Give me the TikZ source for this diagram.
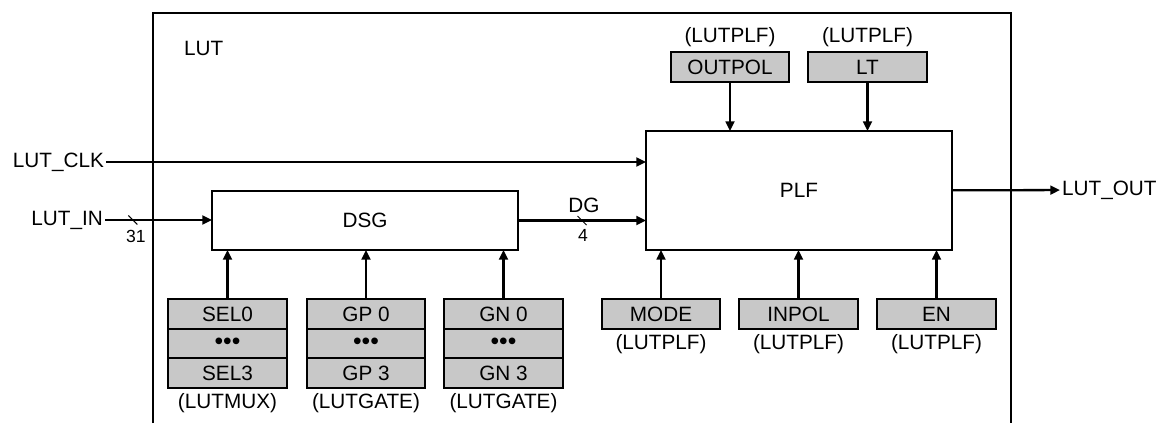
\documentclass[tikz,border=0pt]{standalone}
\usepackage{fontspec}
\setmainfont{Liberation Sans}
\usetikzlibrary{arrows.meta, positioning}
\definecolor{regfill}{RGB}{200,200,200}

\begin{document}
\begin{tikzpicture}[
			x=0.02cm, y=-0.02cm,
			node distance=0cm,
			font=\fontsize{11.8}{14}\selectfont,
			block/.style={rectangle, draw, line width=0.9pt, align=center,
				inner sep=0pt, outer sep=0pt},
			reg/.style={block, fill=regfill, minimum width=2.37cm, minimum height=0.6cm},
			row/.style={reg, minimum height=0.59cm},
			dots/.style={row, font=\fontsize{14}{14}\selectfont},
			lbl/.style={inner sep=1pt},
			small/.style={inner sep=1pt, font=\fontsize{10}{12}\selectfont},
			arr/.style={-{Triangle[length=5.5pt, width=5pt]}, line width=1.3pt},
			tick/.style={line width=0.6pt}
		]
			\useasboundingbox (0,0) rectangle (1157,423);
			\draw[line width=1.2pt] (153,423) -- (153,13) -- (1011,13) -- (1011,423);
			\node[lbl, anchor=west] (lut) at (182,48) {LUT};

			\node[block, minimum width=6.12cm, minimum height=2.38cm] (plf) at (799,190.5) {PLF};
			\node[block, minimum width=6.12cm, minimum height=1.18cm] (dsg) at (365,220.5) {DSG};

			% registers above and below PLF
			\node[reg] (outpol) at (730,67) {OUTPOL};
			\node[reg] (lt) at (867.5,67) {LT};
			\node[lbl, above=2pt of outpol] (outpoldef) {(LUTPLF)};
			\node[lbl, above=2pt of lt] (ltdef) {(LUTPLF)};
			\node[reg] (mode) at (661,314) {MODE};
			\node[reg] (inpol) at (798.5,314) {INPOL};
			\node[reg] (en) at (936.5,314) {EN};
			\node[lbl, below=2pt of mode] (modedef) {(LUTPLF)};
			\node[lbl, below=2pt of inpol] (inpoldef) {(LUTPLF)};
			\node[lbl, below=2pt of en] (endef) {(LUTPLF)};

			% registers below DSG
			\node[row] (sel0) at (227.5,314) {SEL0};
			\node[dots, below=of sel0] (seldots) {•••};
			\node[row, below=of seldots] (sel3) {SEL3};
			\node[lbl, below=2pt of sel3] (seldef) {(LUTMUX)};
			\node[row] (gp0) at (366,314) {GP 0};
			\node[dots, below=of gp0] (gpdots) {•••};
			\node[row, below=of gpdots] (gp3) {GP 3};
			\node[lbl, below=2pt of gp3] (gpdef) {(LUTGATE)};
			\node[row] (gn0) at (503.5,314) {GN 0};
			\node[dots, below=of gn0] (gndots) {•••};
			\node[row, below=of gndots] (gn3) {GN 3};
			\node[lbl, below=2pt of gn3] (gndef) {(LUTGATE)};

			% ports
			\node[lbl, anchor=east] (clk) at (106,162) {LUT\_CLK};
			\node[lbl, anchor=east] (lutin) at (105,220) {LUT\_IN};
			\node[lbl, anchor=west] (lutout) at (1060,190) {LUT\_OUT};

			\draw[arr] (clk) -- (clk -| plf.west);
			\draw[arr] (lutin) -- coordinate[pos=0.26] (inbus) (lutin -| dsg.west);
			\draw[tick] ([shift={(-4.5,-4.5)}]inbus) -- ([shift={(4.5,4.5)}]inbus);
			\node[small] at ([shift={(3,16)}]inbus) {31};
			\draw[arr] (dsg) -- coordinate[pos=0.5] (dgbus) (dsg -| plf.west);
			\draw[tick] ([shift={(-4.5,-4.5)}]dgbus) -- ([shift={(4.5,4.5)}]dgbus);
			\node[lbl] at ([shift={(2,-15)}]dgbus) {DG};
			\node[small] at ([shift={(1,15)}]dgbus) {4};
			\draw[arr] (plf) -- (lutout);

			\draw[arr] (outpol) -- (outpol |- plf.north);
			\draw[arr] (lt) -- (lt |- plf.north);
			\draw[arr] (mode) -- (mode |- plf.south);
			\draw[arr] (inpol) -- (inpol |- plf.south);
			\draw[arr] (en) -- (en |- plf.south);
			\draw[arr] (sel0) -- (sel0 |- dsg.south);
			\draw[arr] (gp0) -- (gp0 |- dsg.south);
			\draw[arr] (gn0) -- (gn0 |- dsg.south);
		\end{tikzpicture}
\end{document}
